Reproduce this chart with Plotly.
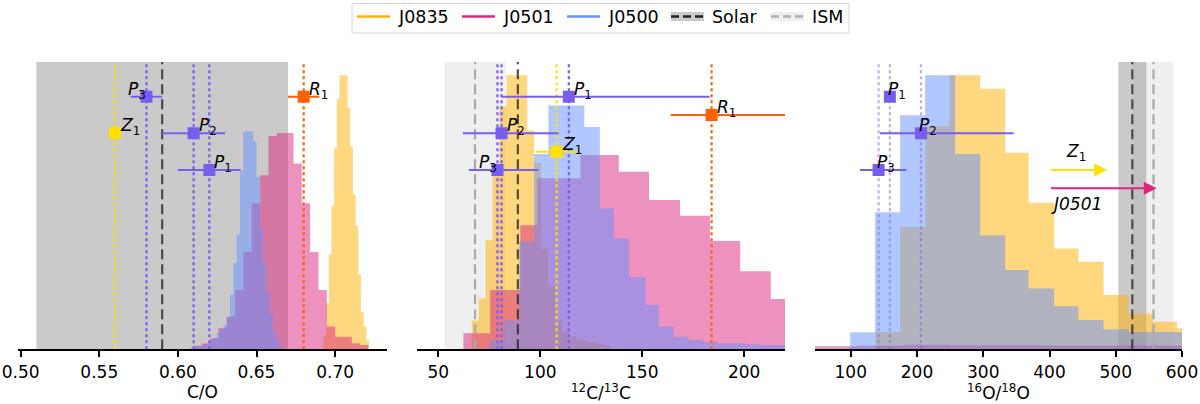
import plotly.graph_objects as go

FONT = 'DejaVu Sans'
ORANGE = '#FFB000'
PINK = '#DC267F'
BLUE = '#648FFF'
PURPLE = '#785EF0'
RED = '#FE6100'
YELLOW = '#FFE000'
W, H = 1200, 404

# --- histograms (bin edges, heights as fraction of the axes height) ---
CO_J0835_EDGES = [0.6926, 0.6943, 0.6960, 0.6977, 0.6994, 0.7011, 0.7028, 0.7045, 0.7062,
                  0.7079, 0.7096, 0.7113, 0.7130, 0.7147, 0.7164, 0.7181, 0.7198, 0.7215]
CO_J0835_H = [0.05, 0.16, 0.33, 0.50, 0.70, 0.87, 0.954, 0.954, 0.954, 0.84, 0.705, 0.54,
              0.43, 0.26, 0.13, 0.08, 0.03]
CO_J0501_EDGES = [0.6099, 0.6152, 0.6205, 0.6258, 0.6311, 0.6364, 0.6417, 0.6470, 0.6523,
                  0.6576, 0.6629, 0.6682, 0.6735, 0.6788, 0.6841, 0.6894, 0.6947, 0.7000,
                  0.7053, 0.7106, 0.7159, 0.7212]
CO_J0501_H = [0.012, 0.02, 0.038, 0.073, 0.113, 0.206, 0.339, 0.508, 0.606, 0.742, 0.753,
              0.753, 0.647, 0.508, 0.339, 0.206, 0.079, 0.044, 0.044, 0.021, 0.015]
CO_J0500_EDGES = [0.6080, 0.6101, 0.6122, 0.6143, 0.6164, 0.6185, 0.6206, 0.6227, 0.6248,
                  0.6269, 0.6290, 0.6311, 0.6332, 0.6353, 0.6374, 0.6395, 0.6416, 0.6437,
                  0.6458, 0.6479, 0.6500, 0.6521, 0.6542, 0.6563, 0.6584, 0.6605, 0.6626,
                  0.6647, 0.6668]
CO_J0500_H = [0.005, 0.008, 0.01, 0.012, 0.015, 0.02, 0.025, 0.04, 0.056, 0.07, 0.085, 0.11,
              0.19, 0.30, 0.40, 0.62, 0.759, 0.759, 0.759, 0.724, 0.60, 0.42, 0.30, 0.20,
              0.12, 0.06, 0.03, 0.01]

CC_J0835_EDGES = [66.4, 69.8, 73.2, 76.6, 80.0, 83.4, 86.8, 90.2, 93.6, 97.0, 100.4, 103.8,
                  107.2, 110.6, 114.0, 117.4, 120.8, 124.2, 127.6, 131.0, 134.4]
CC_J0835_H = [0.10, 0.177, 0.38, 0.623, 0.844, 0.954, 0.954, 0.954, 0.762, 0.65, 0.35, 0.22,
              0.10, 0.06, 0.045, 0.035, 0.03, 0.025, 0.02, 0.015]
CC_J0501_EDGES = [62.3, 75.4, 90.2, 98.5, 119.7, 138.5, 153.3, 168.5, 183.2, 198.0, 213.0, 228.0]
CC_J0501_H = [0.056, 0.206, 0.432, 0.595, 0.676, 0.618, 0.52, 0.465, 0.377, 0.272, 0.175]
CC_J0500_EDGES = [75.0, 82.0, 89.7, 97.0, 104.0, 121.6, 129.2, 136.1, 143.5, 151.6, 158.2,
                  165.4, 172.6, 179.8, 187.0, 194.0, 201.0, 208.0, 215.0, 222.0]
CC_J0500_H = [0.03, 0.10, 0.374, 0.68, 0.849, 0.774, 0.49, 0.386, 0.252, 0.154, 0.079, 0.044,
              0.033, 0.025, 0.02, 0.02, 0.018, 0.015, 0.015]

OO_J0835_EDGES = [136.7, 174.5, 212.3, 249.0, 295.4, 333.1, 368.3, 407.0, 443.8, 481.6,
                  519.3, 556.1, 592.4, 630.0]
OO_J0835_H = [0.06, 0.426, 0.776, 0.954, 0.907, 0.684, 0.51, 0.351, 0.305, 0.189, 0.125,
              0.096, 0.073]
OO_J0501_EDGES = [46, 110, 180, 250, 320, 390, 460, 530, 600]
OO_J0501_H = [0.011, 0.013, 0.016, 0.014, 0.014, 0.013, 0.013, 0.013]
OO_J0500_EDGES = [99.1, 136.7, 174.5, 212.3, 257.6, 295.4, 333.1, 368.3, 407.0, 443.8, 481.6,
                  519.3, 556.1, 600.0]
OO_J0500_H = [0.059, 0.477, 0.815, 0.954, 0.68, 0.397, 0.276, 0.212, 0.15, 0.102, 0.07,
              0.06, 0.06]

# --- retrieved values ---
CO_NAMES = ['P1', 'P2', 'P3', 'Z1', 'R1']
CO_VALS = [0.62, 0.61, 0.58, 0.56, 0.68]
CO_ERR_LO = [0.02, 0.02, 0.01, 0.0, 0.01]
CO_ERR_HI = [0.02, 0.02, 0.01, 0.0, 0.01]

CC_NAMES = ['P1', 'P2', 'P3', 'Z1', 'R1']
CC_VALS = [114, 81, 79, 108, 184]
CC_ERR_LO = [33, 19, 14, 10, 20]
CC_ERR_HI = [69, 28, 20, 10, 36]

OO_NAMES = ['P1', 'P2', 'P3']
OO_VALS = [159, 206, 142]
OO_ERR_LO = [0, 62, 28]
OO_ERR_HI = [0, 140, 42]
OO_LIMIT_NAMES = ['Z1', 'J0501']
OO_LIMIT_FROM = [400, 400]
OO_LIMIT_TO = [487, 562]

SOLAR_CO, SOLAR_CO_ERR = 0.59, 0.08
SOLAR_CC = 89
ISM_CC, ISM_CC_ERR = 68, 15
SOLAR_OO, SOLAR_OO_ERR = 525, 21
ISM_OO, ISM_OO_ERR = 557, 30

CO_TICKS = [0.50, 0.55, 0.60, 0.65, 0.70]
CC_TICKS = [50, 100, 150, 200]
OO_TICKS = [100, 200, 300, 400, 500, 600]

LEGEND_NAMES = ['J0835', 'J0501', 'J0500', 'Solar', 'ISM']

# vertical slot of each point inside its panel
ROWS = {
    1: {'P3': 0, 'R1': 0, 'Z1': 2, 'P2': 2, 'P1': 4},
    2: {'P1': 0, 'R1': 1, 'P2': 2, 'Z1': 3, 'P3': 4},
    3: {'P1': 0, 'P2': 2, 'P3': 4, 'Z1': 4, 'J0501': 5},
}
LEFT_LABELS = {(1, 'P3'), (2, 'P3')}
PT_COLOR = {'P1': PURPLE, 'P2': PURPLE, 'P3': PURPLE, 'Z1': YELLOW, 'R1': RED}


def rgba(hex_color, a):
    h = hex_color.lstrip('#')
    r, g, b = int(h[0:2], 16), int(h[2:4], 16), int(h[4:6], 16)
    return f'rgba({r},{g},{b},{a})'


def ax(letter, n):
    return letter if n == 1 else f'{letter}{n}'


def row_y(r):
    return 0.879 - 0.0637 * r


def label_text(name):
    if name == 'J0501':
        return '<i>J0501</i>'
    return f'<i>{name[0]}</i><sub>{name[1:]}</sub>'


def px_x(p):
    return p / W


def px_y(p):
    return 1 - p / H


fig = go.Figure()
annotations = []
shapes = []


def add_hist(edges, heights, color, n):
    fig.add_trace(go.Scatter(
        x=edges, y=list(heights) + [heights[-1]],
        mode='lines', line=dict(shape='hv', width=0, color=color),
        fill='tozeroy', fillcolor=rgba(color, 0.5),
        xaxis=ax('x', n), yaxis=ax('y', n), showlegend=False, hoverinfo='skip'
    ))


def add_vline(v, color, dash, n, width=2.2):
    fig.add_trace(go.Scatter(
        x=[v, v], y=[0, 1], mode='lines',
        line=dict(color=color, dash=dash, width=width),
        xaxis=ax('x', n), yaxis=ax('y', n), showlegend=False, hoverinfo='skip'
    ))


def add_band(lo, hi, color, n):
    shapes.append(dict(type='rect', xref=ax('x', n), yref=ax('y', n) + ' domain',
                       x0=lo, x1=hi, y0=0, y1=1, fillcolor=color,
                       line=dict(width=0), layer='below'))


def add_points(names, vals, lo, hi, n):
    for name, v, el, eh in zip(names, vals, lo, hi):
        c = PT_COLOR[name]
        y = row_y(ROWS[n][name])
        fig.add_trace(go.Scatter(
            x=[v], y=[y], mode='markers',
            marker=dict(symbol='square', size=12, color=c),
            error_x=dict(type='data', symmetric=False, array=[eh], arrayminus=[el],
                         color=c, thickness=2, width=0),
            xaxis=ax('x', n), yaxis=ax('y', n), showlegend=False, hoverinfo='skip'
        ))
        left = (n, name) in LEFT_LABELS
        annotations.append(dict(
            x=v, y=y, xref=ax('x', n), yref=ax('y', n), text=label_text(name),
            showarrow=False, xanchor='right' if left else 'left', yanchor='bottom',
            xshift=2 if left else (-4 if n == 3 else 3), yshift=-7,
            font=dict(size=17, color='black', family=FONT)
        ))


ism_band = 'rgba(128,128,128,0.13)'
solar_band = 'rgba(128,128,128,0.42)'
solar_line = 'rgba(40,40,40,0.8)'
ism_line = '#a9a9a9'

# panel 1: C/O
add_band(SOLAR_CO - SOLAR_CO_ERR, SOLAR_CO + SOLAR_CO_ERR, solar_band, 1)
add_hist(CO_J0835_EDGES, CO_J0835_H, ORANGE, 1)
add_hist(CO_J0501_EDGES, CO_J0501_H, PINK, 1)
add_hist(CO_J0500_EDGES, CO_J0500_H, BLUE, 1)
add_vline(SOLAR_CO, solar_line, '10px,5px', 1)
for name, v in zip(CO_NAMES, CO_VALS):
    add_vline(v, PT_COLOR[name], 'dot', 1)
add_points(CO_NAMES, CO_VALS, CO_ERR_LO, CO_ERR_HI, 1)

# panel 2: 12C/13C
add_band(ISM_CC - ISM_CC_ERR, ISM_CC + ISM_CC_ERR, ism_band, 2)
add_hist(CC_J0835_EDGES, CC_J0835_H, ORANGE, 2)
add_hist(CC_J0501_EDGES, CC_J0501_H, PINK, 2)
add_hist(CC_J0500_EDGES, CC_J0500_H, BLUE, 2)
add_vline(ISM_CC, ism_line, '10px,5px', 2)
add_vline(SOLAR_CC, solar_line, '10px,5px', 2)
for name, v in zip(CC_NAMES, CC_VALS):
    add_vline(v, PT_COLOR[name], 'dot', 2)
add_points(CC_NAMES, CC_VALS, CC_ERR_LO, CC_ERR_HI, 2)

# panel 3: 16O/18O
add_band(ISM_OO - ISM_OO_ERR, ISM_OO + ISM_OO_ERR, ism_band, 3)
add_band(SOLAR_OO - SOLAR_OO_ERR, SOLAR_OO + SOLAR_OO_ERR, solar_band, 3)
add_hist(OO_J0835_EDGES, OO_J0835_H, ORANGE, 3)
add_hist(OO_J0501_EDGES, OO_J0501_H, PINK, 3)
add_hist(OO_J0500_EDGES, OO_J0500_H, BLUE, 3)
add_vline(SOLAR_OO, solar_line, '10px,5px', 3)
add_vline(ISM_OO, ism_line, '10px,5px', 3)
for v in OO_VALS:
    add_vline(v, rgba(PURPLE, 0.5), 'dot', 3)
add_points(OO_NAMES, OO_VALS, OO_ERR_LO, OO_ERR_HI, 3)

limit_colors = {'Z1': YELLOW, 'J0501': PINK}
for name, a, b in zip(OO_LIMIT_NAMES, OO_LIMIT_FROM, OO_LIMIT_TO):
    y = row_y(ROWS[3][name])
    annotations.append(dict(
        x=b, y=y, ax=a, ay=y, xref='x3', yref='y3', axref='x3', ayref='y3',
        text='', showarrow=True, arrowhead=2, arrowsize=1.3, arrowwidth=2,
        arrowcolor=limit_colors[name]
    ))
    above = name == 'Z1'
    annotations.append(dict(
        x=a + 40, y=y, xref='x3', yref='y3', text=label_text(name),
        showarrow=False, xanchor='center', yanchor='bottom' if above else 'top',
        yshift=4 if above else -4, font=dict(size=17, color='black', family=FONT)
    ))

# --- hand-placed legend box (matplotlib style) ---
shapes.append(dict(type='rect', xref='paper', yref='paper',
                   x0=px_x(352), x1=px_x(849), y0=px_y(33), y1=px_y(3.5),
                   fillcolor='white', line=dict(color='#d6d6d6', width=1), layer='above'))
leg_y = 16.5
handles = [(357, 'line', ORANGE), (462, 'line', PINK), (567, 'line', BLUE),
           (671, 'solar', None), (771, 'ism', None)]
for (x0, kind, c), name in zip(handles, LEGEND_NAMES):
    x1 = x0 + 33
    if kind == 'line':
        shapes.append(dict(type='line', xref='paper', yref='paper', x0=px_x(x0), x1=px_x(x1),
                           y0=px_y(leg_y), y1=px_y(leg_y), line=dict(color=c, width=2.5),
                           layer='above'))
    else:
        patch = 'rgba(128,128,128,0.42)' if kind == 'solar' else 'rgba(128,128,128,0.13)'
        dash_c = '#222222' if kind == 'solar' else '#b0b0b0'
        shapes.append(dict(type='rect', xref='paper', yref='paper', x0=px_x(x0), x1=px_x(x1),
                           y0=px_y(leg_y + 4.5), y1=px_y(leg_y - 4.5), fillcolor=patch,
                           line=dict(width=0), layer='above'))
        shapes.append(dict(type='line', xref='paper', yref='paper', x0=px_x(x0), x1=px_x(x1),
                           y0=px_y(leg_y), y1=px_y(leg_y),
                           line=dict(color=dash_c, width=2.5, dash='8px,4px'), layer='above'))
    annotations.append(dict(x=px_x(x1 + 6), y=px_y(leg_y), xref='paper', yref='paper',
                            text=name, showarrow=False, xanchor='left', yanchor='middle',
                            font=dict(size=17.5, family=FONT, color='black')))

# axis titles
for text, x0, x1 in [('C/O', 18.3, 386.7), ('<sup>12</sup>C/<sup>13</sup>C', 416.7, 785),
                     ('<sup>16</sup>O/<sup>18</sup>O', 815, 1182)]:
    annotations.append(dict(x=px_x((x0 + x1) / 2), y=px_y(392), xref='paper', yref='paper',
                            text=text, showarrow=False, xanchor='center', yanchor='middle',
                            font=dict(size=17, family=FONT, color='black')))


def xaxis(x0, x1, rng, ticks, fmt, n):
    return dict(domain=[px_x(x0), px_x(x1)], range=rng, anchor=ax('y', n), showline=True,
                linecolor='black', linewidth=2, ticks='outside', ticklen=6, tickwidth=1.5,
                tickcolor='black', tickvals=ticks, tickformat=fmt, showgrid=False,
                zeroline=False, automargin=False, ticklabeloverflow='allow',
                tickfont=dict(size=17, family=FONT, color='black'))


yax = dict(domain=[px_y(349.3), px_y(62)], range=[0, 1], visible=False, fixedrange=True,
           automargin=False)

fig.update_layout(
    width=W, height=H,
    margin=dict(l=0, r=0, t=0, b=0, autoexpand=False),
    paper_bgcolor='white', plot_bgcolor='white',
    font=dict(family=FONT, color='black'),
    xaxis=xaxis(18.3, 386.7, [0.4985, 0.7328], CO_TICKS, '.2f', 1),
    xaxis2=xaxis(416.7, 785, [39.4, 220], CC_TICKS, '', 2),
    xaxis3=xaxis(815, 1182, [46, 600], OO_TICKS, '', 3),
    yaxis=dict(yax, anchor='x'),
    yaxis2=dict(yax, anchor='x2'),
    yaxis3=dict(yax, anchor='x3'),
    shapes=shapes,
    annotations=annotations,
    showlegend=False,
)

# drop the browser's default 8px body margin so the figure sits at the page corner
fig.write_html('out.html', config={'displayModeBar': False},
               post_script="document.body.style.margin='0';")
